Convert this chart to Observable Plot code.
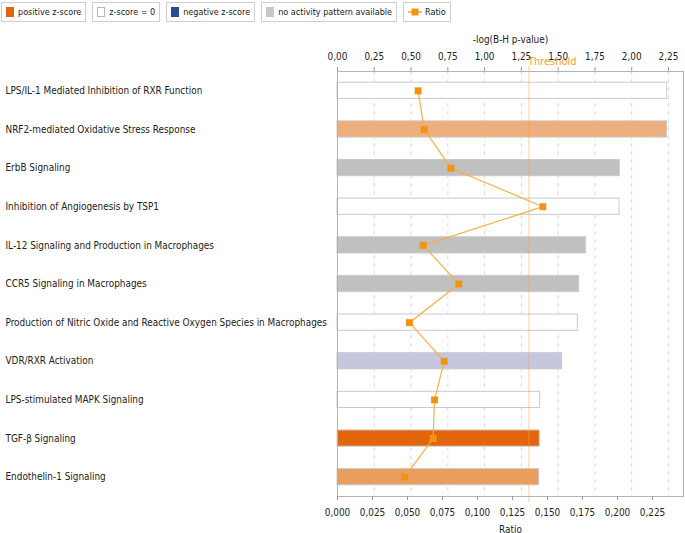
<!DOCTYPE html>
<html>
<head>
<meta charset="utf-8">
<script src="https://cdn.jsdelivr.net/npm/d3@7"></script>
<script src="https://cdn.jsdelivr.net/npm/@observablehq/plot@0.6"></script>
<style>
  html, body { margin: 0; padding: 0; background: #fff; }
  #wrap { position: relative; width: 685px; height: 533px; overflow: hidden; font-family: "DejaVu Sans Condensed", "Liberation Sans", sans-serif; }
  #wrap > svg { position: absolute; left: 0; top: 0; }
  #legend { position: absolute; left: 1px; top: 2px; display: flex; gap: 6px; }
  .item { height: 20px; box-sizing: border-box; border: 1px solid #cfcfcf; display: flex; align-items: center; padding: 0 4px 0 4px; font-size: 9px; color: #222; white-space: nowrap; }
  .sw { width: 8px; height: 10px; margin-right: 4px; box-sizing: border-box; flex: none; }
</style>
</head>
<body>
<div id="wrap"></div>
<script>
// ---- data ----
const pathways = [
  "LPS/IL-1 Mediated Inhibition of RXR Function",
  "NRF2-mediated Oxidative Stress Response",
  "ErbB Signaling",
  "Inhibition of Angiogenesis by TSP1",
  "IL-12 Signaling and Production in Macrophages",
  "CCR5 Signaling in Macrophages",
  "Production of Nitric Oxide and Reactive Oxygen Species in Macrophages",
  "VDR/RXR Activation",
  "LPS-stimulated MAPK Signaling",
  "TGF-β Signaling",
  "Endothelin-1 Signaling"
];
const negLogP = [2.241, 2.241, 1.919, 1.917, 1.690, 1.643, 1.634, 1.527, 1.378, 1.375, 1.371];
const ratio = [0.0576, 0.0619, 0.0810, 0.1467, 0.0612, 0.0867, 0.0514, 0.0762, 0.0693, 0.0683, 0.0479];
const zClass = ["zero", "positive weak", "no pattern", "zero", "no pattern", "no pattern", "zero", "negative weak", "zero", "positive strong", "positive moderate"];
const threshold = 1.301;
const logTicks = [0, 0.25, 0.5, 0.75, 1.0, 1.25, 1.5, 1.75, 2.0, 2.25];
const ratioTicks = [0, 0.025, 0.05, 0.075, 0.1, 0.125, 0.15, 0.175, 0.2, 0.225];
const legendLabels = ["positive z-score", "z-score = 0", "negative z-score", "no activity pattern available", "Ratio"];

const rows = pathways.map((p, i) => ({pathway: p, logP: negLogP[i], ratio: ratio[i], z: zClass[i]}));

const W = 685, H = 533;
const common = {
  width: W, height: H,
  marginTop: 71, marginBottom: 37, marginLeft: 337, marginRight: 2,
  style: {fontFamily: '"DejaVu Sans Condensed", "Liberation Sans", sans-serif', fontSize: "9.9px", color: "#222", background: "transparent", overflow: "visible"},
  y: {type: "band", domain: pathways, paddingInner: 0.58, paddingOuter: 0.29, round: false, axis: null}
};
const comma = (n) => (d) => d.toFixed(n).replace(".", ",");

const p1 = Plot.plot({
  ...common,
  x: {domain: [0, 2.352]},
  color: {
    domain: ["zero", "positive weak", "positive moderate", "positive strong", "negative weak", "no pattern"],
    range: ["#ffffff", "#ecae7c", "#ea9e5e", "#e2650e", "#c6c6de", "#c0c0c0"]
  },
  marks: [
    Plot.gridX(logTicks.filter(d => d > 0), {stroke: "#dadada", strokeOpacity: 1, strokeDasharray: "4,4"}),
    Plot.barX(rows, {x: "logP", y: "pathway", fill: "z", stroke: "#cacaca", strokeWidth: 1}),
    Plot.ruleX([threshold], {stroke: "#f5a742", strokeOpacity: 0.5, insetTop: -5, insetBottom: -6}),
    Plot.text(["Threshold"], {x: threshold, frameAnchor: "top", dy: -14, dx: -1, textAnchor: "start", fill: "#f2a02c", fontSize: 11}),
    Plot.axisX({anchor: "top", ticks: logTicks, tickFormat: comma(2), tickSize: 5, tickPadding: 7, stroke: "#999", fill: "#222",
      label: "-log(B-H p-value)", labelAnchor: "center", labelArrow: "none", labelOffset: 36}),
    Plot.text(pathways, {y: d => d, frameAnchor: "left", dx: -332, textAnchor: "start", fill: "#222"}),
    Plot.frame({stroke: "#b4b4b4"})
  ]
});

const p2 = Plot.plot({
  ...common,
  x: {domain: [0, 0.2471]},
  marks: [
    Plot.line(rows, {x: "ratio", y: "pathway", stroke: "#f6ad3c", strokeWidth: 1.3, strokeOpacity: 0.9}),
    Plot.dot(rows, {x: "ratio", y: "pathway", symbol: "square", r: 3.9, fill: "#f29411", stroke: "none"}),
    Plot.axisX({anchor: "bottom", ticks: ratioTicks, tickFormat: comma(3), tickSize: 4, tickPadding: 8, stroke: "#999", fill: "#222",
      label: "Ratio", labelAnchor: "center", labelArrow: "none", labelOffset: 36})
  ]
});

const wrap = document.getElementById("wrap");
wrap.appendChild(p1);
wrap.appendChild(p2);

// ---- legend ----
const legend = document.createElement("div");
legend.id = "legend";
wrap.appendChild(legend);
const swatches = [
  "background:#e2650e",
  "background:#fff;border:1px solid #b8b8b8",
  "background:#2b4a9b",
  "background:#c8c8c8",
  null
];
legendLabels.forEach((lab, i) => {
  const d = document.createElement("div");
  d.className = "item";
  if (swatches[i]) {
    const s = document.createElement("span");
    s.className = "sw";
    s.setAttribute("style", swatches[i]);
    d.appendChild(s);
  } else {
    const s = document.createElementNS("http://www.w3.org/2000/svg", "svg");
    s.setAttribute("width", 14); s.setAttribute("height", 10);
    s.style.marginRight = "3px";
    s.innerHTML = '<line x1="0" y1="5" x2="14" y2="5" stroke="#f5a530" stroke-width="1.5"/><rect x="3.5" y="1.5" width="7" height="7" fill="#f29411"/>';
    d.appendChild(s);
  }
  d.appendChild(document.createTextNode(lab));
  legend.appendChild(d);
});
</script>
</body>
</html>
